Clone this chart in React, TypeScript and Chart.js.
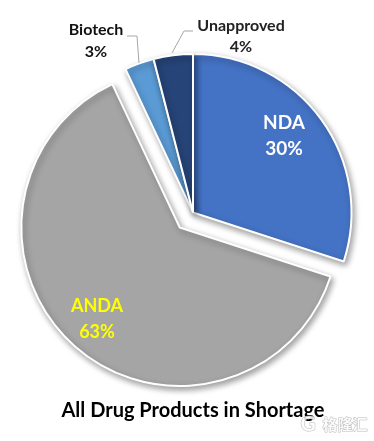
import React, { useEffect, useRef } from "react";
import { Chart, registerables, ArcElement } from "chart.js";

Chart.register(...registerables);

const categories = ["NDA", "ANDA", "Biotech", "Unapproved"];
const shares = [30, 63, 3, 4];
const sliceColors = ["#4472C4", "#A5A5A5", "#5B9BD5", "#264478"];
const explodeDistance = [0, 20, 0, 0];
const titleText = "All Drug Products in Shortage";

const FONT = "Lato, 'Open Sans', sans-serif";
const labelPlacements = [
  { name: 0, x: 284, y: 123, pctY: 149, color: "#FFFFFF", size: 19 },
  { name: 1, x: 97, y: 306, pctY: 332, color: "#FFFF00", size: 18 },
  { name: 2, x: 96, y: 30, pctY: 52, color: "#111111", size: 16 },
  { name: 3, x: 241, y: 26, pctY: 47, color: "#222222", size: 16 },
];
const leaderLines = [
  [[127, 36], [137, 36], [139, 63]],
  [[193, 31], [184, 31], [172, 53]],
];

const piePlugin = {
  id: "piePlugin",
  afterDatasetUpdate(chart: any) {
    const meta = chart.getDatasetMeta(0);
    meta.data.forEach((el: any, i: number) => {
      el.draw = function (ctx: CanvasRenderingContext2D, area: any) {
        const mid = (this.startAngle + this.endAngle) / 2;
        ctx.save();
        ctx.translate(Math.cos(mid) * explodeDistance[i], Math.sin(mid) * explodeDistance[i]);
        ctx.shadowColor = "rgba(0,0,0,0.38)";
        ctx.shadowBlur = 6;
        ctx.shadowOffsetX = 2;
        ctx.shadowOffsetY = 3;
        ArcElement.prototype.draw.call(this, ctx, area);
        ctx.restore();
      };
    });
  },
  afterDatasetsDraw(chart: any) {
    const ctx: CanvasRenderingContext2D = chart.ctx;
    ctx.save();
    ctx.strokeStyle = "#A6A6A6";
    ctx.lineWidth = 1;
    leaderLines.forEach((pts) => {
      ctx.beginPath();
      pts.forEach((p, k) => (k ? ctx.lineTo(p[0], p[1]) : ctx.moveTo(p[0], p[1])));
      ctx.stroke();
    });
    ctx.textAlign = "center";
    ctx.textBaseline = "middle";
    labelPlacements.forEach((l) => {
      ctx.fillStyle = l.color;
      ctx.font = `bold ${l.size}px ${FONT}`;
      ctx.fillText(categories[l.name], l.x, l.y);
      ctx.fillText(`${shares[l.name]}%`, l.x, l.pctY);
    });
    ctx.lineWidth = 1;
    ctx.lineJoin = "round";
    ctx.strokeStyle = "rgba(165,165,165,0.75)";
    ctx.fillStyle = "rgba(255,255,255,0.85)";
    ctx.font = "bold 15px 'Noto Sans CJK SC'";
    ctx.strokeText("格隆汇", 345, 424);
    ctx.fillText("格隆汇", 345, 424);
    ctx.font = "bold 21px Lato";
    ctx.strokeText("G", 308, 424);
    ctx.fillText("G", 308, 424);
    ctx.restore();
  },
};

export default function App() {
  const ref = useRef<HTMLCanvasElement>(null);
  useEffect(() => {
    document.body.style.margin = "0";
    const chart = new Chart(ref.current!, {
      type: "pie",
      data: {
        labels: categories,
        datasets: [
          {
            data: shares,
            backgroundColor: sliceColors,
            borderColor: "#FFFFFF",
            borderWidth: 2,
          },
        ],
      },
      options: {
        responsive: false,
        animation: false,
        layout: { padding: { left: 33, right: 21, top: 53, bottom: 0 } },
        plugins: {
          legend: { display: false },
          tooltip: { enabled: false },
          title: {
            display: true,
            position: "bottom",
            text: titleText,
            color: "#000000",
            font: { family: FONT, size: 20, weight: "bold" },
            padding: { top: 27, bottom: 18 },
          },
        },
      },
      plugins: [piePlugin],
    } as any);
    return () => chart.destroy();
  }, []);
  return <canvas ref={ref} width={374} height={441} style={{ display: "block" }} />;
}
